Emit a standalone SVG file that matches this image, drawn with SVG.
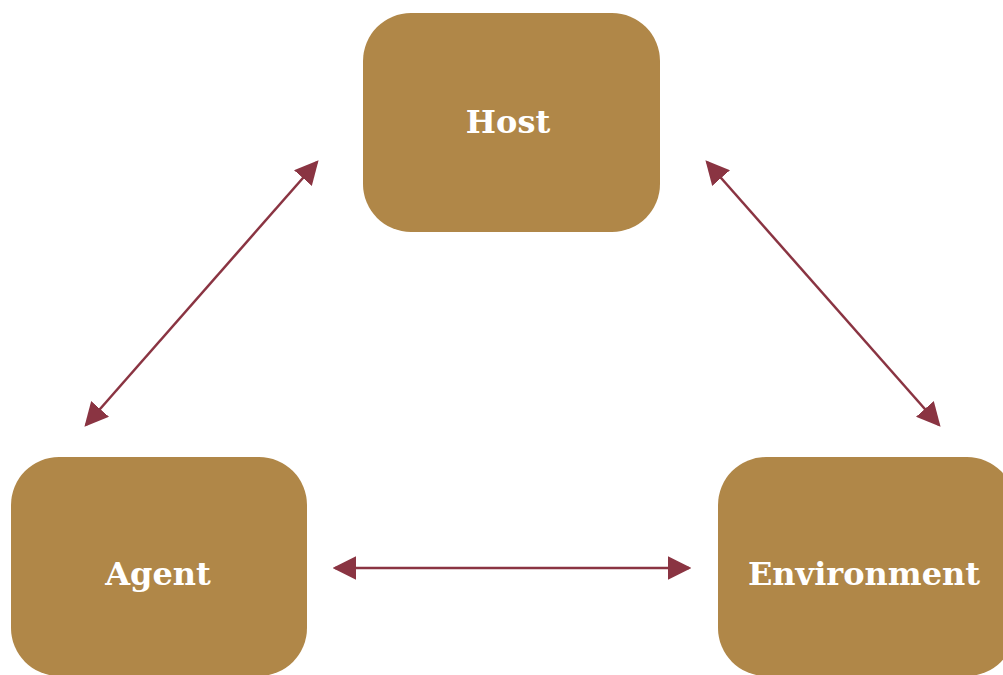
<svg xmlns="http://www.w3.org/2000/svg" width="1003" height="675" viewBox="0 0 1003 675">
  <style>
    .box { fill: #B08748; }
    .label { fill: #FFFFFF; font-family: "DejaVu Serif", "Liberation Serif", serif; font-weight: bold; font-size: 32px; text-anchor: middle; dominant-baseline: central; }
    .link { stroke: #8A3442; stroke-width: 2.5; fill: none; marker-start: url(#head); marker-end: url(#head); }
  </style>
  <defs>
    <marker id="head" viewBox="0 0 10 10" refX="9" refY="5" markerWidth="9.5" markerHeight="9.5" markerUnits="strokeWidth" orient="auto-start-reverse">
      <path d="M0,0 L10,5 L0,10 z" fill="#8A3442"/>
    </marker>
  </defs>
  <rect width="1003" height="675" fill="#FFFFFF"/>

  <g id="connectors">
    <line class="link" x1="317" y1="162" x2="86" y2="425"/>
    <line class="link" x1="707" y1="162" x2="939" y2="425"/>
    <line class="link" x1="335" y1="568" x2="689" y2="568"/>
  </g>

  <g id="host">
    <rect class="box" x="363" y="13" width="297" height="219" rx="48" ry="48"/>
    <text class="label" x="508" y="122">Host</text>
  </g>

  <g id="agent">
    <rect class="box" x="11" y="457" width="296" height="219" rx="48" ry="48"/>
    <text class="label" x="158" y="574">Agent</text>
  </g>

  <g id="environment">
    <rect class="box" x="718" y="457" width="297" height="219" rx="48" ry="48"/>
    <text class="label" x="864" y="574">Environment</text>
  </g>
</svg>
